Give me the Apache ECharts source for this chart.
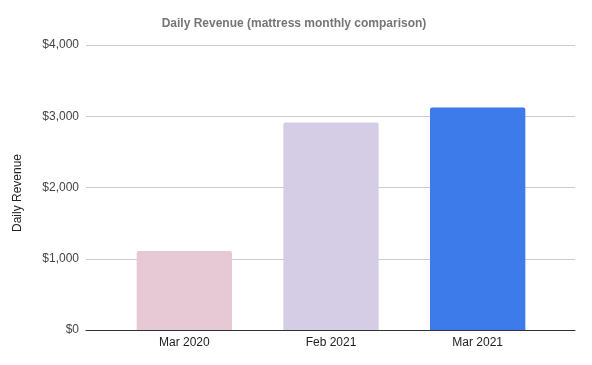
<!DOCTYPE html>
<html><head><meta charset="utf-8">
<script src="https://cdn.jsdelivr.net/npm/echarts@6/dist/echarts.min.js"></script>
<style>html,body{margin:0;padding:0;background:#fff}#c{width:592px;height:365px}</style>
</head><body><div id="c"></div>
<script>
const categories = ["Mar 2020", "Feb 2021", "Mar 2021"];
const revenue = [1108, 2913, 3123];
const barColors = ["#e6c9d4", "#d5cde6", "#3c7be9"];
const yTicks = [0, 1000, 2000, 3000, 4000];
const titleText = "Daily Revenue (mattress monthly comparison)";
const yName = "Daily Revenue";

const chart = echarts.init(document.getElementById('c'), null, {renderer: 'canvas'});
const fmt = v => '$' + v.toLocaleString('en-US');
chart.setOption({
  animation: false,
  textStyle: {fontFamily: 'Liberation Sans, Arial, sans-serif'},
  title: {
    text: titleText, left: 289, top: 13, textAlign: 'center',
    textStyle: {fontSize: 12, fontWeight: 'bold', color: '#757575', fontFamily: 'Liberation Sans, Arial, sans-serif'}
  },
  graphic: [{
    type: 'text', x: 18, y: 193, rotation: Math.PI / 2,
    style: {text: yName, fill: '#222', font: '12px Liberation Sans, Arial, sans-serif', textAlign: 'center', textVerticalAlign: 'middle'}
  }],
  grid: [
    {left: 86, right: 17, top: 45, bottom: 35},
    {left: 111, right: 41, top: 45, bottom: 35}
  ],
  xAxis: [
    {gridIndex: 0, type: 'value', min: 0, max: 1, axisLabel: {show: false}, axisTick: {show: false}, splitLine: {show: false},
     axisLine: {show: true, onZero: false, lineStyle: {color: '#333', width: 1}}},
    {gridIndex: 1, type: 'category', data: categories, axisLine: {show: false}, axisTick: {show: false},
     axisLabel: {color: '#222', fontSize: 12, margin: 7}}
  ],
  yAxis: [
    {gridIndex: 0, type: 'value', min: yTicks[0], max: yTicks[yTicks.length - 1], interval: 1000,
     axisLine: {show: false}, axisTick: {show: false},
     axisLabel: {color: '#444', fontSize: 12, margin: 7, formatter: fmt},
     splitLine: {lineStyle: {color: '#cccccc', width: 1}}},
    {gridIndex: 1, type: 'value', min: yTicks[0], max: yTicks[yTicks.length - 1], show: false, splitLine: {show: false}}
  ],
  series: [{
    type: 'bar', xAxisIndex: 1, yAxisIndex: 1, barWidth: '65%',
    data: revenue.map((v, i) => ({value: v, itemStyle: {color: barColors[i], borderRadius: [2, 2, 0, 0]}}))
  }]
});
</script></body></html>
